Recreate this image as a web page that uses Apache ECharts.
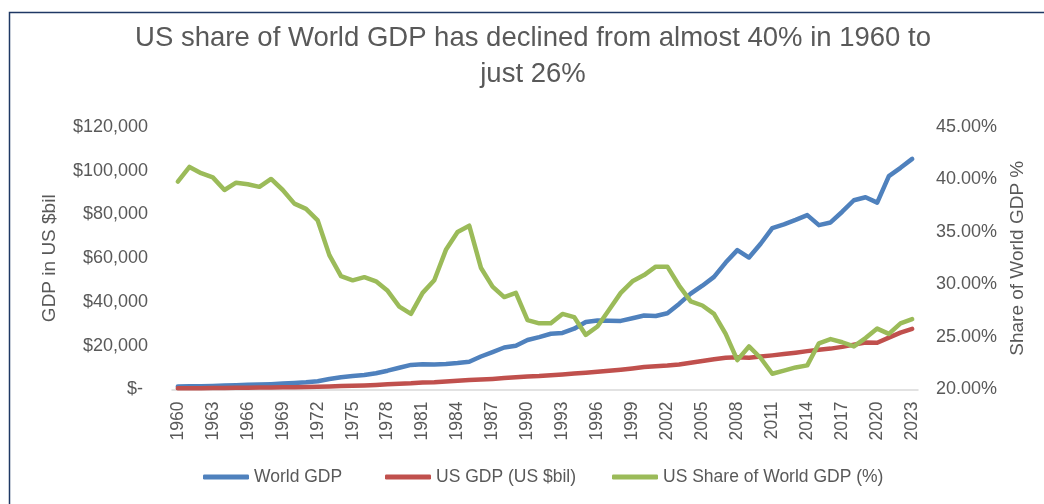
<!DOCTYPE html>
<html>
<head>
<meta charset="utf-8">
<script src="https://cdn.jsdelivr.net/npm/echarts@6/dist/echarts.min.js"></script>
<style>
html,body{margin:0;padding:0;background:#fff;}
#chart{width:1044px;height:504px;}
</style>
</head>
<body>
<div id="chart"></div>
<script>
const years = [];
for (let y = 1960; y <= 2023; y++) years.push(String(y));

const worldGDP = [1380,1440,1530,1640,1800,1960,2130,2270,2450,2700,
  2960,3270,3800,4800,5600,6200,6600,7400,8600,9930,
  11240,11580,11400,11640,12100,12710,15080,17120,19200,20030,
  22620,23970,25470,25880,27780,30870,31570,31450,31350,32540,
  33830,33590,34880,39130,43810,47460,51470,58020,63710,60330,
  66630,73780,75480,77530,79720,75130,76370,81270,86510,87900,
  85430,97530,101330,105440];

const usGDP = [543,563,605,638,686,744,815,862,943,1019,
  1073,1165,1280,1425,1545,1685,1873,2082,2352,2627,
  2857,3207,3343,3634,4037,4339,4580,4855,5236,5642,
  5963,6158,6520,6859,7287,7640,8073,8577,9063,9631,
  10251,10582,10929,11456,12217,13039,13815,14474,14770,14478,
  15049,15600,16254,16843,17551,18206,18695,19477,20533,21500,
  21350,23700,26000,27700];

const usShare = [39.8,41.2,40.6,40.2,39.0,39.7,39.55,39.3,40.05,39.0,
  37.7,37.2,36.1,32.8,30.8,30.4,30.7,30.3,29.4,27.9,
  27.2,29.2,30.4,33.3,35.0,35.6,31.6,29.8,28.8,29.2,
  26.6,26.3,26.3,27.2,26.9,25.2,26.0,27.6,29.2,30.3,
  30.9,31.7,31.7,29.9,28.4,28.0,27.2,25.3,22.8,24.1,
  23.0,21.5,21.8,22.1,22.3,24.4,24.8,24.5,24.1,24.9,
  25.8,25.3,26.3,26.7];

const seriesNames = ['World GDP', 'US GDP (US $bil)', 'US Share of World GDP (%)'];
const titleText = 'US share of World GDP has declined from almost 40% in 1960 to\njust 26%';

const FONT = '"Liberation Sans", Arial, sans-serif';
const GREY = '#595959';
const colors = ['#4F81BD', '#C0504D', '#9BBB59'];

const chart = echarts.init(document.getElementById('chart'), null, {renderer: 'canvas'});

function lineSeries(name, data, yIdx, color) {
  return {
    name: name, type: 'line', data: data, yAxisIndex: yIdx,
    showSymbol: false, symbol: 'none', smooth: false,
    lineStyle: {color: color, width: 4.5, cap: 'round', join: 'round'},
    itemStyle: {color: color},
    emphasis: {disabled: true}
  };
}

function legendFor(name, left) {
  return {
    data: [name], left: left, top: 463, icon: 'roundRect',
    itemWidth: 46, itemHeight: 5,
    textStyle: {fontFamily: FONT, fontSize: 17.5, color: GREY},
    selectedMode: false
  };
}

chart.setOption({
  animation: false,
  backgroundColor: '#ffffff',
  color: colors,
  graphic: [
    {
      type: 'rect', left: 7, top: 10, silent: true,
      shape: {width: 1100, height: 600},
      style: {fill: 'none', stroke: '#1F3864', lineWidth: 1.5}
    },
    {
      type: 'text', x: 533, y: 20, silent: true,
      style: {
        text: titleText, font: '27.5px "Liberation Sans", Arial, sans-serif',
        fill: GREY, align: 'center', textAlign: 'center',
        verticalAlign: 'top', textVerticalAlign: 'top', lineHeight: 36
      }
    }
  ],
  legend: [
    legendFor(seriesNames[0], 198),
    legendFor(seriesNames[1], 380),
    legendFor(seriesNames[2], 607)
  ],
  grid: {left: 172, right: 126, top: 127, bottom: 114.5, containLabel: false},
  xAxis: {
    type: 'category', data: years, boundaryGap: true,
    axisLine: {lineStyle: {color: '#D9D9D9', width: 1.5}},
    axisTick: {interval: 2, length: 6, lineStyle: {color: '#D9D9D9', width: 1.5}},
    axisLabel: {interval: 2, rotate: 90, margin: 12, color: GREY, fontFamily: FONT, fontSize: 17.5},
    splitLine: {show: false}
  },
  yAxis: [
    {
      type: 'value', min: 0, max: 120000, interval: 20000,
      name: 'GDP in US $bil', nameLocation: 'middle', nameGap: 113, nameRotate: 90,
      nameTextStyle: {color: GREY, fontFamily: FONT, fontSize: 19},
      axisLine: {show: false}, axisTick: {show: false}, splitLine: {show: false},
      axisLabel: {
        margin: 24, color: GREY, fontFamily: FONT, fontSize: 18,
        formatter: function (v) { return v === 0 ? '$- ' : '$' + v.toLocaleString('en-US'); }
      }
    },
    {
      type: 'value', min: 20, max: 45, interval: 5, position: 'right',
      name: 'Share of World GDP %', nameLocation: 'middle', nameGap: 90, nameRotate: 90,
      nameTextStyle: {color: GREY, fontFamily: FONT, fontSize: 19},
      axisLine: {show: false}, axisTick: {show: false}, splitLine: {show: false},
      axisLabel: {
        margin: 18, color: GREY, fontFamily: FONT, fontSize: 18,
        formatter: function (v) { return v.toFixed(2) + '%'; }
      }
    }
  ],
  series: [
    lineSeries(seriesNames[0], worldGDP, 0, colors[0]),
    lineSeries(seriesNames[1], usGDP, 0, colors[1]),
    lineSeries(seriesNames[2], usShare, 1, colors[2])
  ]
});
</script>
</body>
</html>
